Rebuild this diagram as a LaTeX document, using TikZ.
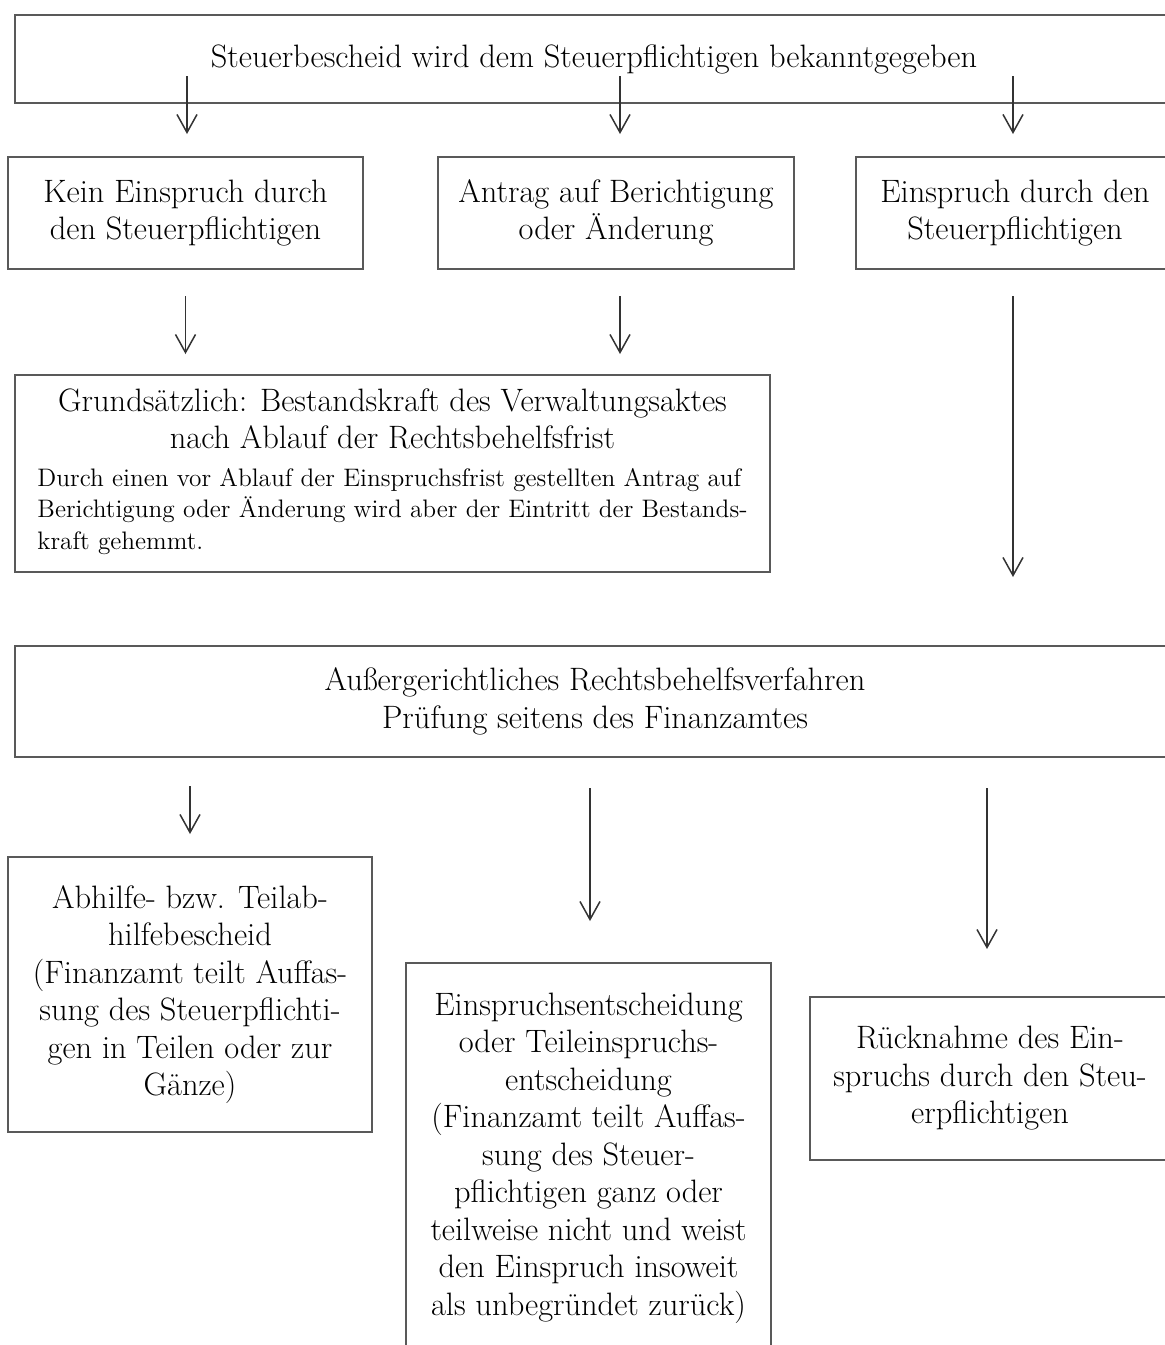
\documentclass[tikz,border=0pt]{standalone}
\usetikzlibrary{arrows.meta}
\begin{document}
\begin{tikzpicture}[x=0.5pt,y=-0.5pt,
    box/.style={draw=black!65,line width=1pt,inner sep=0pt,
      font=\fontsize{16.2}{18.75}\selectfont},
    boxc/.style={box,align=center},
    arr/.style={-{Straight Barb[length=9pt,width=10pt]},line width=0.75pt,black!80}]
  \useasboundingbox (0,0) rectangle (1164,1345);
  \node[boxc,minimum width=579pt,minimum height=44pt] (bescheid) at (594,59)
    {Steuerbescheid wird dem Steuerpflichtigen bekanntgegeben};

  \node[boxc,minimum width=177.5pt,minimum height=56pt] (kein) at (185.5,213)
    {Kein Einspruch durch\\den Steuerpflichtigen};
  \node[boxc,minimum width=178pt,minimum height=56pt] (antrag) at (616,213)
    {Antrag auf Berichtigung\\oder Änderung};
  \node[boxc,minimum width=159pt,minimum height=56pt] (einspruch) at (1015,213)
    {Einspruch durch den\\Steuerpflichtigen};

  \node[boxc,minimum width=377.5pt,minimum height=98.5pt] (grund) at (392.5,473.5)
    {Grundsätzlich: Bestandskraft des Verwaltungsaktes\\nach Ablauf der Rechtsbehelfsfrist\\
     {\fontsize{12.65}{15.75}\selectfont\begin{tabular}[t]{@{}l@{}}
       Durch einen vor Ablauf der Einspruchsfrist gestellten Antrag auf\\
       Berichtigung oder Änderung wird aber der Eintritt der Bestands-\\
       kraft gehemmt.
     \end{tabular}}};

  \node[boxc,minimum width=580pt,minimum height=55.5pt] (verfahren) at (595,701.5)
    {Außergerichtliches Rechtsbehelfsverfahren\\Prüfung seitens des Finanzamtes};

  \node[boxc,minimum width=182pt,minimum height=137.5pt] (abhilfe) at (190,994.5)
    {Abhilfe- bzw. Teilab-\\hilfebescheid\\(Finanzamt teilt Auffas-\\sung des Steuerpflichti-\\gen in Teilen oder zur\\Gänze)};
  \node[boxc,minimum width=182.5pt,minimum height=195pt] (entscheidung) at (588.5,1158)
    {Einspruchsentscheidung\\oder Teileinspruchs-\\entscheidung\\(Finanzamt teilt Auffas-\\sung des Steuer-\\pflichtigen ganz oder\\teilweise nicht und weist\\den Einspruch insoweit\\als unbegründet zurück)};
  \node[boxc,minimum width=180pt,minimum height=81.5pt] (ruecknahme) at (990,1078.5)
    {Rücknahme des Ein-\\spruchs durch den Steu-\\erpflichtigen};

  \draw[arr] ([xshift=0.75pt,yshift=14pt]bescheid.south -| kein) -- ([xshift=0.75pt,yshift=11pt]kein.north);
  \draw[arr] ([xshift=2pt,yshift=14pt]bescheid.south -| antrag) -- ([xshift=2pt,yshift=11pt]antrag.north);
  \draw[arr] ([xshift=-1pt,yshift=14pt]bescheid.south -| einspruch) -- ([xshift=-1pt,yshift=11pt]einspruch.north);

  \draw[arr] ([yshift=-13pt]kein.south) -- ([yshift=10pt]kein.south |- grund.north);
  \draw[arr] ([xshift=2pt,yshift=-13pt]antrag.south) -- ([xshift=2pt,yshift=10pt]antrag.south |- grund.north);
  \draw[arr] ([xshift=-1pt,yshift=-13pt]einspruch.south) -- ([xshift=-1pt,yshift=34pt]einspruch.south |- verfahren.north);

  \draw[arr] ([yshift=-14pt]verfahren.south -| abhilfe) -- ([yshift=11pt]abhilfe.north);
  \draw[arr] ([xshift=0.75pt,yshift=-15pt]verfahren.south -| entscheidung) -- ([xshift=0.75pt,yshift=20.5pt]entscheidung.north);
  \draw[arr] ([xshift=-1.5pt,yshift=-15pt]verfahren.south -| ruecknahme) -- ([xshift=-1.5pt,yshift=23.5pt]ruecknahme.north);
\end{tikzpicture}
\end{document}
